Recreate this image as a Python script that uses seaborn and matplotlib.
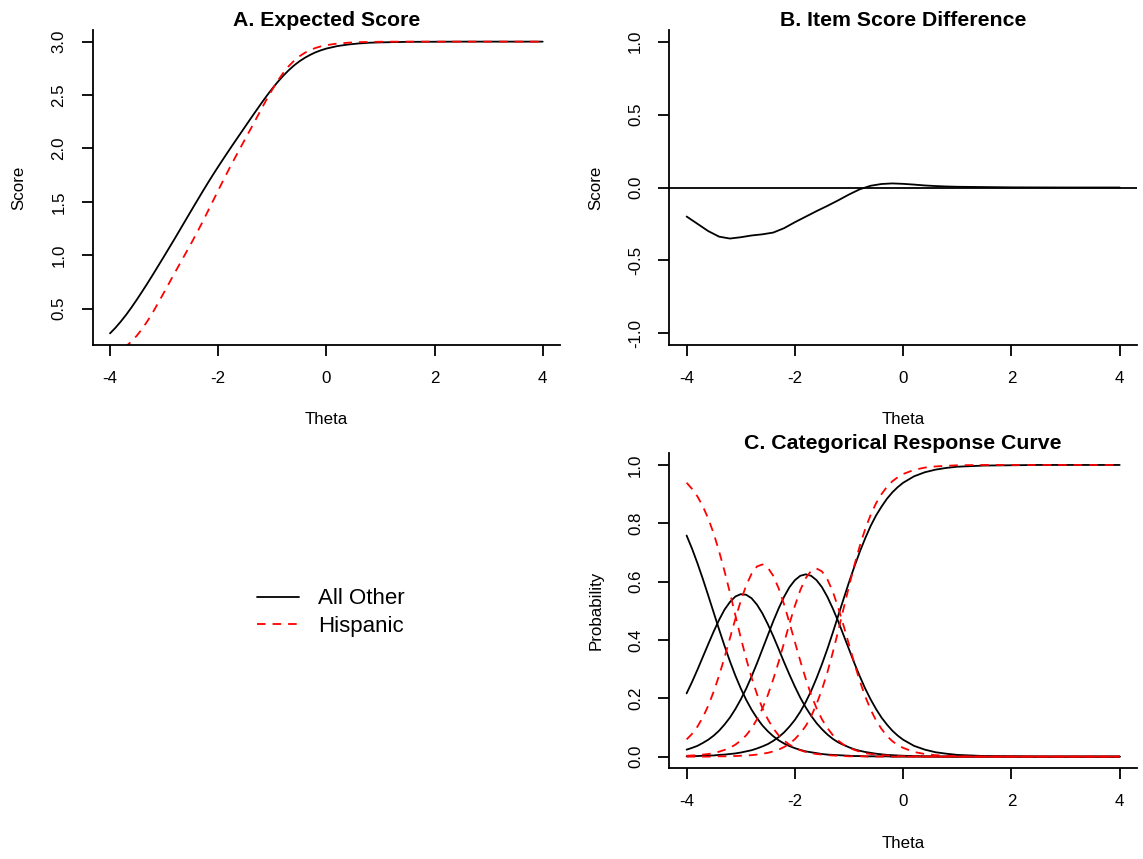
import matplotlib
matplotlib.use("Agg")
import matplotlib.pyplot as plt
from matplotlib.lines import Line2D
import seaborn as sns

# ---------------------------------------------------------------------------
# Data: ability grid and curves for the two groups
# ---------------------------------------------------------------------------
theta = [
    -4.0, -3.9, -3.8, -3.7, -3.6, -3.5, -3.4, -3.3, -3.2, -3.1,
    -3.0, -2.9, -2.8, -2.7, -2.6, -2.5, -2.4, -2.3, -2.2, -2.1,
    -2.0, -1.9, -1.8, -1.7, -1.6, -1.5, -1.4, -1.3, -1.2, -1.1,
    -1.0, -0.9, -0.8, -0.7, -0.6, -0.5, -0.4, -0.3, -0.2, -0.1,
    0.0, 0.2, 0.4, 0.6, 0.8, 1.0, 1.5, 2.0, 2.5, 3.0, 3.5, 4.0,
]

# Expected item score
expected_all_other = [
    0.268, 0.320, 0.379, 0.443, 0.513, 0.587, 0.664, 0.743, 0.824, 0.907,
    0.990, 1.074, 1.158, 1.244, 1.330, 1.416, 1.501, 1.586, 1.669, 1.750,
    1.829, 1.906, 1.982, 2.057, 2.131, 2.205, 2.279, 2.352, 2.424, 2.494,
    2.560, 2.622, 2.679, 2.730, 2.776, 2.815, 2.848, 2.876, 2.900, 2.919,
    2.935, 2.958, 2.973, 2.983, 2.990, 2.993, 2.998, 2.999, 3.000, 3.000, 3.000, 3.000,
]
expected_hispanic = [
    0.064, 0.086, 0.114, 0.149, 0.194, 0.249, 0.314, 0.389, 0.472, 0.561,
    0.653, 0.745, 0.837, 0.928, 1.019, 1.110, 1.204, 1.301, 1.402, 1.504,
    1.606, 1.707, 1.806, 1.902, 1.996, 2.089, 2.182, 2.276, 2.370, 2.463,
    2.551, 2.633, 2.705, 2.768, 2.819, 2.862, 2.895, 2.921, 2.941, 2.956,
    2.967, 2.982, 2.990, 2.995, 2.997, 2.999, 3.000, 3.000, 3.000, 3.000, 3.000, 3.000,
]

# Item score difference
diff_theta = [
    -4.0, -3.8, -3.6, -3.4, -3.2, -3.0, -2.8, -2.6, -2.4, -2.2,
    -2.0, -1.8, -1.6, -1.4, -1.2, -1.0, -0.8, -0.6, -0.4, -0.2,
    0.0, 0.2, 0.4, 0.6, 0.8, 1.0, 1.5, 2.0, 3.0, 4.0,
]
score_diff = [
    -0.199, -0.249, -0.299, -0.337, -0.350, -0.341, -0.329, -0.321, -0.309, -0.279,
    -0.238, -0.200, -0.162, -0.126, -0.088, -0.048, -0.012, 0.012, 0.024, 0.028,
    0.025, 0.020, 0.014, 0.010, 0.007, 0.005, 0.003, 0.001, 0.000, 0.000,
]

# Category response probabilities, All Other
prob_all_other_0 = [
    0.758, 0.713, 0.663, 0.609, 0.552, 0.494, 0.436, 0.380, 0.327, 0.278,
    0.234, 0.195, 0.161, 0.132, 0.107, 0.087, 0.070, 0.056, 0.045, 0.036,
    0.029, 0.023, 0.018, 0.015, 0.012, 0.009, 0.007, 0.006, 0.005, 0.004,
    0.003, 0.002, 0.002, 0.001, 0.001, 0.001, 0.001, 0.001, 0.000, 0.000,
    0.000, 0.000, 0.000, 0.000, 0.000, 0.000, 0.000, 0.000, 0.000, 0.000, 0.000, 0.000,
]
prob_all_other_1 = [
    0.217, 0.256, 0.298, 0.342, 0.386, 0.429, 0.469, 0.504, 0.530, 0.549,
    0.557, 0.555, 0.543, 0.521, 0.491, 0.454, 0.413, 0.369, 0.324, 0.281,
    0.240, 0.202, 0.169, 0.140, 0.115, 0.094, 0.076, 0.061, 0.049, 0.040,
    0.032, 0.025, 0.020, 0.016, 0.013, 0.010, 0.008, 0.006, 0.005, 0.004,
    0.003, 0.002, 0.001, 0.001, 0.000, 0.000, 0.000, 0.000, 0.000, 0.000, 0.000, 0.000,
]
prob_all_other_2 = [
    0.024, 0.030, 0.037, 0.047, 0.058, 0.072, 0.089, 0.110, 0.134, 0.163,
    0.196, 0.233, 0.275, 0.320, 0.368, 0.416, 0.464, 0.508, 0.548, 0.581,
    0.605, 0.620, 0.625, 0.620, 0.605, 0.581, 0.548, 0.508, 0.464, 0.416,
    0.368, 0.320, 0.275, 0.233, 0.196, 0.163, 0.134, 0.110, 0.089, 0.072,
    0.058, 0.037, 0.024, 0.015, 0.010, 0.006, 0.002, 0.001, 0.000, 0.000, 0.000, 0.000,
]
prob_all_other_3 = [
    0.001, 0.002, 0.002, 0.003, 0.004, 0.004, 0.006, 0.007, 0.009, 0.011,
    0.014, 0.018, 0.022, 0.028, 0.035, 0.043, 0.054, 0.067, 0.083, 0.103,
    0.126, 0.154, 0.187, 0.225, 0.269, 0.317, 0.369, 0.425, 0.483, 0.541,
    0.598, 0.652, 0.703, 0.749, 0.791, 0.827, 0.857, 0.884, 0.906, 0.924,
    0.939, 0.961, 0.975, 0.984, 0.990, 0.994, 0.998, 0.999, 1.000, 1.000, 1.000, 1.000,
]

# Category response probabilities, Hispanic
prob_hispanic_0 = [
    0.939, 0.918, 0.892, 0.858, 0.816, 0.765, 0.704, 0.636, 0.562, 0.485,
    0.408, 0.336, 0.271, 0.214, 0.166, 0.128, 0.097, 0.073, 0.055, 0.041,
    0.030, 0.022, 0.016, 0.012, 0.009, 0.007, 0.005, 0.004, 0.003, 0.002,
    0.001, 0.001, 0.001, 0.001, 0.000, 0.000, 0.000, 0.000, 0.000, 0.000,
    0.000, 0.000, 0.000, 0.000, 0.000, 0.000, 0.000, 0.000, 0.000, 0.000, 0.000, 0.000,
]
prob_hispanic_1 = [
    0.059, 0.078, 0.103, 0.135, 0.175, 0.223, 0.278, 0.340, 0.406, 0.472,
    0.534, 0.587, 0.627, 0.652, 0.659, 0.648, 0.620, 0.577, 0.522, 0.459,
    0.393, 0.328, 0.267, 0.212, 0.166, 0.128, 0.098, 0.074, 0.055, 0.041,
    0.031, 0.023, 0.017, 0.012, 0.009, 0.007, 0.005, 0.004, 0.003, 0.002,
    0.001, 0.001, 0.000, 0.000, 0.000, 0.000, 0.000, 0.000, 0.000, 0.000, 0.000, 0.000,
]
prob_hispanic_2 = [
    0.003, 0.004, 0.005, 0.007, 0.009, 0.012, 0.017, 0.023, 0.030, 0.041,
    0.055, 0.073, 0.097, 0.128, 0.165, 0.211, 0.265, 0.325, 0.390, 0.456,
    0.517, 0.571, 0.612, 0.637, 0.645, 0.635, 0.608, 0.566, 0.511, 0.449,
    0.384, 0.319, 0.259, 0.206, 0.161, 0.124, 0.095, 0.071, 0.053, 0.040,
    0.030, 0.016, 0.009, 0.005, 0.003, 0.001, 0.000, 0.000, 0.000, 0.000, 0.000, 0.000,
]
prob_hispanic_3 = [
    0.000, 0.000, 0.000, 0.000, 0.000, 0.001, 0.001, 0.001, 0.002, 0.002,
    0.003, 0.004, 0.005, 0.007, 0.010, 0.013, 0.018, 0.024, 0.033, 0.044,
    0.060, 0.080, 0.105, 0.138, 0.180, 0.230, 0.289, 0.357, 0.431, 0.508,
    0.584, 0.657, 0.723, 0.781, 0.829, 0.869, 0.900, 0.925, 0.944, 0.958,
    0.969, 0.983, 0.991, 0.995, 0.997, 0.999, 1.000, 1.000, 1.000, 1.000, 1.000, 1.000,
]

group_labels = ["All Other", "Hispanic"]
theta_ticks = [-4, -2, 0, 2, 4]
theta_tick_labels = ["-4", "-2", "0", "2", "4"]
score_ticks = [0.5, 1.0, 1.5, 2.0, 2.5, 3.0]
score_tick_labels = ["0.5", "1.0", "1.5", "2.0", "2.5", "3.0"]
diff_ticks = [-1.0, -0.5, 0.0, 0.5, 1.0]
diff_tick_labels = ["-1.0", "-0.5", "0.0", "0.5", "1.0"]
prob_ticks = [0.0, 0.2, 0.4, 0.6, 0.8, 1.0]
prob_tick_labels = ["0.0", "0.2", "0.4", "0.6", "0.8", "1.0"]

# ---------------------------------------------------------------------------
# Styling
# ---------------------------------------------------------------------------
sns.set_theme(style="ticks")
plt.rcParams["font.family"] = ["Liberation Sans", "DejaVu Sans"]
plt.rcParams["text.color"] = "black"
plt.rcParams["axes.labelcolor"] = "black"
plt.rcParams["xtick.color"] = "black"
plt.rcParams["ytick.color"] = "black"
plt.rcParams["lines.scale_dashes"] = False

REF_COLOR = "black"
FOC_COLOR = "#FF0000"
LW = 1.3
DASH = (0, (6.2, 5.0))
TICK_FS = 12.2
LABEL_FS = 12.2
TITLE_FS = 15.3

W, H = 1143, 859
fig = plt.figure(figsize=(W / 100, H / 100), dpi=100)


def box(x0, x1, y_top, y_bot):
    return [x0 / W, 1 - y_bot / H, (x1 - x0) / W, (y_bot - y_top) / H]


axA = fig.add_axes(box(92.7, 560, 30, 345))
axB = fig.add_axes(box(669.3, 1137, 30, 345))
axC = fig.add_axes(box(669.3, 1137, 453.3, 768.3))


def style_axes(ax, title, ylabel, yticks, yticklabels, ylim):
    for side in ("top", "right"):
        ax.spines[side].set_visible(False)
    for side in ("left", "bottom"):
        ax.spines[side].set_linewidth(1.3)
        ax.spines[side].set_color("black")
    ax.set_xlim(-4.32, 4.32)
    ax.set_ylim(*ylim)
    ax.set_xticks(theta_ticks)
    ax.set_xticklabels(theta_tick_labels)
    ax.set_yticks(yticks)
    ax.set_yticklabels(yticklabels, rotation=90, va="center")
    ax.tick_params(axis="both", direction="out", length=7.8, width=1.3,
                   labelsize=TICK_FS)
    ax.tick_params(axis="x", pad=11.0)
    ax.tick_params(axis="y", pad=11.0)
    ax.set_xlabel("Theta", fontsize=LABEL_FS, labelpad=19)
    ax.set_ylabel(ylabel, fontsize=LABEL_FS, labelpad=18)
    ax.set_title(title, fontsize=TITLE_FS, fontweight="bold", pad=2.5)
    ax.grid(False)


def curve(ax, x, y, color, dashed=False):
    kws = dict(x=x, y=y, ax=ax, color=color, linewidth=LW,
               errorbar=None, legend=False, sort=False)
    if dashed:
        kws["linestyle"] = DASH
    sns.lineplot(**kws)


# A. Expected score
curve(axA, theta, expected_all_other, REF_COLOR)
curve(axA, theta, expected_hispanic, FOC_COLOR, dashed=True)
style_axes(axA, "A. Expected Score", "Score", score_ticks, score_tick_labels,
           (0.159, 3.109))

# B. Item score difference
axB.axhline(0.0, color="black", linewidth=LW)
curve(axB, diff_theta, score_diff, REF_COLOR)
style_axes(axB, "B. Item Score Difference", "Score", diff_ticks,
           diff_tick_labels, (-1.08, 1.08))

# C. Categorical response curves
for probs in (prob_all_other_0, prob_all_other_1, prob_all_other_2,
              prob_all_other_3):
    curve(axC, theta, probs, REF_COLOR)
for probs in (prob_hispanic_0, prob_hispanic_1, prob_hispanic_2,
              prob_hispanic_3):
    curve(axC, theta, probs, FOC_COLOR, dashed=True)
style_axes(axC, "C. Categorical Response Curve", "Probability", prob_ticks,
           prob_tick_labels, (-0.04, 1.04))

# Group legend in the empty lower-left area
handles = [
    Line2D([], [], color=REF_COLOR, linewidth=LW),
    Line2D([], [], color=FOC_COLOR, linewidth=LW, linestyle=DASH),
]
fig.legend(handles, group_labels, loc="upper left",
           bbox_to_anchor=(256.7 / W, 1 - 588.5 / H), frameon=False,
           fontsize=16, handlelength=1.9, handletextpad=0.85,
           labelspacing=0.30, borderpad=0, borderaxespad=0)

fig.savefig("out.png", dpi=100, facecolor="white")
